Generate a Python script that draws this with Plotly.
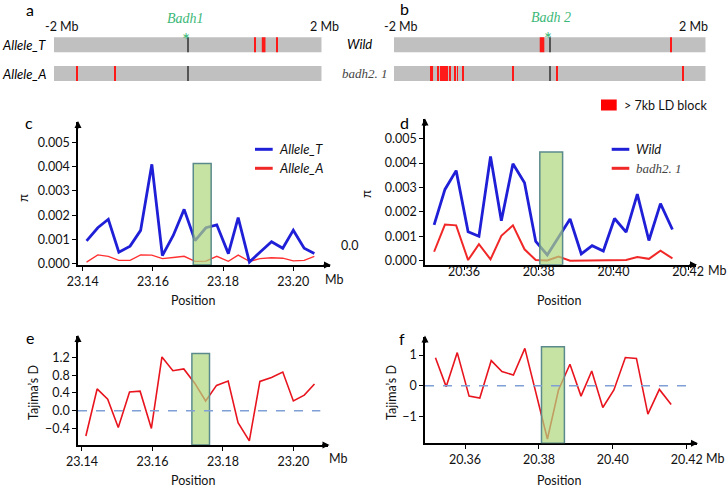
import plotly.graph_objects as go

W, H = 728, 488

# ---------------- panel a / b : LD blocks around the gene (Mb) ----------------
a_T_start = [0.996, 1.105, 1.331]
a_T_end = [1.010, 1.160, 1.344]
a_A_start = [-1.660, -1.096]
a_A_end = [-1.647, -1.083]

b_wild_start = [-0.130, 1.545]
b_wild_end = [-0.071, 1.558]
b_badh_start = [-1.538, -1.440, -1.410, -1.290, -1.221, -1.191, -1.119, -0.473, 0.083, 1.705]
b_badh_end = [-1.499, -1.429, -1.307, -1.279, -1.212, -1.182, -1.110, -0.463, 0.093, 1.715]
gene_pos = 0.0

# ---------------- panel c / e : chr 23.14-23.21 Mb ----------------
pos_c = [23.1411, 23.1443, 23.1473, 23.1503, 23.1535, 23.1565, 23.1597, 23.1627,
         23.1658, 23.1689, 23.1720, 23.1751, 23.1782, 23.1815, 23.1843, 23.1875,
         23.1905, 23.1938, 23.1970, 23.2000, 23.2031, 23.2060]
pi_allele_T = [0.00094, 0.00148, 0.00183, 0.00047, 0.00072, 0.00137, 0.00410, 0.00033,
               0.00116, 0.00224, 0.00095, 0.00148, 0.00160, 0.00041, 0.00190, 0.00006,
               0.00047, 0.00090, 0.00063, 0.00138, 0.00063, 0.00042]
pi_allele_A = [0.00006, 0.00036, 0.00030, 0.00013, 0.00013, 0.00036, 0.00035, 0.00020,
               0.00025, 0.00030, 0.00009, 0.00010, 0.00030, 0.00009, 0.00035, 0.00009,
               0.00020, 0.00024, 0.00022, 0.00011, 0.00013, 0.00030]
tajima_e = [-0.57, 0.49, 0.26, -0.38, 0.42, 0.44, -0.40, 1.21, 0.90, 0.94, 0.62,
            0.22, 0.57, 0.67, -0.27, -0.68, 0.66, 0.75, 0.87, 0.22, 0.35, 0.60]
box_c = [23.1715, 23.1766]
box_c_top = 0.00413
box_e = [23.1712, 23.1762]
box_e_top = 1.29

# ---------------- panel d / f : chr 20.35-20.42 Mb ----------------
pos_d = [20.3520, 20.3549, 20.3579, 20.3611, 20.3640, 20.3671, 20.3700, 20.3731,
         20.3762, 20.3792, 20.3823, 20.3853, 20.3884, 20.3914, 20.3943, 20.3973,
         20.4003, 20.4034, 20.4064, 20.4095, 20.4126, 20.4158]
pi_wild = [0.00147, 0.00292, 0.00369, 0.00119, 0.00100, 0.00427, 0.00164, 0.00397,
           0.00319, 0.00079, 0.00024, 0.00097, 0.00171, 0.00028, 0.00062, 0.00040,
           0.00173, 0.00117, 0.00273, 0.00083, 0.00234, 0.00128]
pi_badh = [0.00037, 0.00148, 0.00145, 0.00003, 0.00068, 0.00006, 0.00102, 0.00145,
           0.00047, 0.00003, 0.00001, 0.00017, 0.00000, 0.00000, 0.00000, 0.00003,
           0.00001, 0.00003, 0.00015, 0.00008, 0.00041, 0.00010]
tajima_f = [0.91, -0.03, 1.08, -0.34, -0.40, 0.82, 0.46, 0.35, 1.22, -0.28, -1.74,
            -0.14, 0.70, -0.34, 0.48, -0.71, -0.14, 0.92, 0.89, -0.93, -0.12, -0.61]
box_d = [20.3803, 20.3864]
box_d_top = 0.00445
box_f = [20.3807, 20.3869]
box_f_top = 1.27


def px(x):
    return x / W


def py(y):
    return 1 - y / H


FONT = "Lato, Liberation Sans, sans-serif"
SERIF = "Liberation Serif, serif"
BLUE = "#1f1fd8"
RED = "#f02828"
GRAY = "#c0c0c0"
LDRED = "#ff1a1a"
GREEN_TXT = "#3cb878"

fig = go.Figure()


def track(xa, ya, row, starts, ends):
    fig.add_trace(go.Bar(x=[4.0], base=[-2.0], y=[row], orientation="h", width=0.52,
                         marker=dict(color=GRAY, line=dict(width=0)),
                         xaxis=xa, yaxis=ya, showlegend=False, hoverinfo="skip"))
    fig.add_trace(go.Bar(x=[e - s for s, e in zip(starts, ends)], base=starts,
                         y=[row] * len(starts), orientation="h", width=0.52,
                         marker=dict(color=LDRED, line=dict(width=0)),
                         xaxis=xa, yaxis=ya, showlegend=False, hoverinfo="skip"))
    fig.add_trace(go.Bar(x=[0.012], base=[gene_pos - 0.006], y=[row], orientation="h",
                         width=0.52, marker=dict(color="#555555", line=dict(width=0)),
                         xaxis=xa, yaxis=ya, showlegend=False, hoverinfo="skip"))


track("x", "y", 1, a_T_start, a_T_end)
track("x", "y", 0, a_A_start, a_A_end)
track("x6", "y6", 1, b_wild_start, b_wild_end)
track("x6", "y6", 0, b_badh_start, b_badh_end)


def line(x, y, color, width, xa, ya):
    fig.add_trace(go.Scatter(x=x, y=y, mode="lines", line=dict(color=color, width=width),
                             xaxis=xa, yaxis=ya, showlegend=False, hoverinfo="skip"))


line(pos_c, pi_allele_A, "#ff3030", 1.3, "x2", "y2")
line(pos_c, pi_allele_T, BLUE, 2.8, "x2", "y2")
line(pos_d, pi_badh, RED, 2.0, "x3", "y3")
line(pos_d, pi_wild, BLUE, 2.8, "x3", "y3")
line(pos_c, tajima_e, "#e8141e", 1.6, "x4", "y4")
line(pos_d, tajima_f, "#e8141e", 1.6, "x5", "y5")

track_ax = dict(visible=False, fixedrange=True, automargin=False)
tick_font = dict(family=FONT, size=12.5, color="#111")


def xax(dom, rng, ticks, anchor, standoff=0):
    return dict(domain=dom, range=rng, anchor=anchor, showline=True, linecolor="black",
                linewidth=1.5, ticks="outside", ticklen=4, tickcolor="black",
                tickvals=ticks, tickformat=".2f", showgrid=False, zeroline=False,
                tickfont=tick_font, automargin=False, ticklabelstandoff=standoff)


def yax(dom, rng, ticks, fmt, anchor):
    return dict(domain=dom, range=rng, anchor=anchor, showline=True, linecolor="black",
                linewidth=1.5, ticks="outside", ticklen=4, tickcolor="black",
                tickvals=ticks, tickformat=fmt, showgrid=False, zeroline=False,
                tickfont=tick_font, automargin=False)


y_rng_c = [-0.00006, 0.00585]
y_rng_d = [-0.00016, 0.00579]
y_rng_e = [-0.772, 1.682]
y_rng_f = [-1.879, 1.599]

fig.update_layout(
    width=W, height=H, margin=dict(l=0, r=0, t=0, b=0, autoexpand=False),
    paper_bgcolor="white", plot_bgcolor="white", barmode="overlay",
    font=dict(family=FONT, size=12, color="#111"),
    xaxis=dict(domain=[px(54), px(321.7)], range=[-2, 2], anchor="y", **track_ax),
    yaxis=dict(domain=[py(87.9), py(30.3)], range=[-0.5, 1.5], anchor="x", **track_ax),
    xaxis6=dict(domain=[px(394), px(705.7)], range=[-2, 2], anchor="y6", **track_ax),
    yaxis6=dict(domain=[py(87.9), py(30.3)], range=[-0.5, 1.5], anchor="x6", **track_ax),
    xaxis2=xax([px(78), px(330)], [23.13866, 23.21046], [23.14, 23.16, 23.18, 23.20], "y2"),
    yaxis2=yax([py(265), py(122)], y_rng_c, [0, 0.001, 0.002, 0.003, 0.004, 0.005], ".3f", "x2"),
    xaxis3=xax([px(425), px(695.7)], [20.34956, 20.42203], [20.36, 20.38, 20.40, 20.42], "y3", -9),
    yaxis3=yax([py(264.7), py(119.3)], y_rng_d, [0, 0.001, 0.002, 0.003, 0.004, 0.005], ".3f", "x3"),
    xaxis4=xax([px(78), px(328.3)], [23.13887, 23.20992], [23.14, 23.16, 23.18, 23.20], "y4"),
    yaxis4=yax([py(445), py(336)], y_rng_e, [-0.4, 0, 0.4, 0.8, 1.2], ".1f", "x4"),
    xaxis5=xax([px(425), px(696.7)], [20.34917, 20.42271], [20.36, 20.38, 20.40, 20.42], "y5"),
    yaxis5=yax([py(443.3), py(336.7)], y_rng_f, [-1, 0, 1], "d", "x5"),
)

shapes = []
box_style = dict(type="rect", layer="above", fillcolor="rgba(175,215,125,0.7)",
                 line=dict(color="#5b8a8c", width=1.5))
shapes.append(dict(xref="x2", yref="y2", x0=box_c[0], x1=box_c[1], y0=y_rng_c[0], y1=box_c_top, **box_style))
shapes.append(dict(xref="x3", yref="y3", x0=box_d[0], x1=box_d[1], y0=y_rng_d[0], y1=box_d_top, **box_style))
shapes.append(dict(xref="x4", yref="y4", x0=box_e[0], x1=box_e[1], y0=y_rng_e[0], y1=box_e_top, **box_style))
shapes.append(dict(xref="x5", yref="y5", x0=box_f[0], x1=box_f[1], y0=y_rng_f[0], y1=box_f_top, **box_style))
# zero reference lines for Tajima's D
shapes.append(dict(type="line", xref="x4 domain", yref="y4", x0=0, x1=0.968, y0=0, y1=0,
                   line=dict(color="#7f9fd6", width=1.5, dash="dash")))
shapes.append(dict(type="line", xref="x5 domain", yref="y5", x0=0, x1=0.968, y0=0, y1=0,
                   line=dict(color="#7f9fd6", width=1.5, dash="dash")))
# hand-made legends
for (x0, x1, y, c) in [(255, 272.7, 149.3, BLUE), (255, 272.7, 168.3, RED),
                       (611.7, 629.3, 149.3, BLUE), (611.7, 629.3, 168.3, RED)]:
    shapes.append(dict(type="line", xref="paper", yref="paper", x0=px(x0), x1=px(x1),
                       y0=py(y), y1=py(y), line=dict(color=c, width=3)))
shapes.append(dict(type="rect", xref="paper", yref="paper", x0=px(601), x1=px(616.7),
                   y0=py(110.5), y1=py(99.5), fillcolor="#ff0000", line=dict(width=0)))
fig.update_layout(shapes=shapes)

ann = []


def text(x, y, s, size=12.5, xanchor="center", color="#111", family=FONT, angle=0, italic=False):
    ann.append(dict(x=px(x), y=py(y), xref="paper", yref="paper", text=s, showarrow=False,
                    xanchor=xanchor, yanchor="middle", textangle=angle,
                    font=dict(family=family, size=size, color=color,
                              style="italic" if italic else "normal")))


def arrow(x, y, ax, ay):
    ann.append(dict(x=px(x), y=py(y), xref="paper", yref="paper", text="", showarrow=True,
                    ax=ax, ay=ay, arrowhead=2, arrowsize=1, arrowwidth=1.4, arrowcolor="black"))


# panel letters
for (x, y, s) in [(30, 10, "a"), (404, 9, "b"), (29, 123, "c"), (404, 122, "d"),
                  (30, 337, "e"), (402, 338, "f")]:
    text(x, y, s, size=16, color="black")

# tracks text
text(62, 27, "-2 Mb", 12.5)
text(324, 27, "2 Mb", 12.5)
text(401, 27, "-2 Mb", 12.5)
text(693, 27, "2 Mb", 12.5)
text(185, 19, "Badh1", 14, color=GREEN_TXT, family=SERIF, italic=True)
text(186, 39, "*", 19, color=GREEN_TXT)
text(551, 18, "Badh 2", 14, color=GREEN_TXT, family=SERIF, italic=True)
text(548, 38, "*", 19, color=GREEN_TXT)
text(48, 45, "Allele_T", 13, xanchor="right", italic=True, color="black")
text(48, 73.5, "Allele_A", 13, xanchor="right", italic=True, color="black")
text(345, 44.5, "Wild", 13, xanchor="left", italic=True, color="black")
text(340, 73.5, "badh2. 1", 13, xanchor="left", family=SERIF, italic=True, color="#444")

# legends
text(622, 105, "> 7kb LD block", 12.5, xanchor="left")
text(277, 149.3, "Allele_T", 13, xanchor="left", italic=True)
text(277, 168.3, "Allele_A", 13, xanchor="left", italic=True)
text(634, 149.3, "Wild", 13, xanchor="left", italic=True)
text(634, 168.3, "badh2. 1", 13, xanchor="left", family=SERIF, italic=True, color="#444")

# axis titles and units
text(23, 198, "π", 13, angle=-90)
text(366, 194, "π", 13, angle=-90)
text(349, 245, "0.0", 12.5)
text(193, 300, "Position", 12.5)
text(559, 300, "Position", 12.5)
text(193, 480.5, "Position", 12.5)
text(559, 480.5, "Position", 12.5)
text(334, 279, "Mb", 12.5)
text(717.5, 270, "Mb", 12.5)
text(338.5, 458, "Mb", 12.5)
text(715.5, 458, "Mb", 12.5)
text(33, 393, "Tajima’s D", 12.5, angle=-90)
text(391, 393, "Tajima’s D", 12.5, angle=-90)

# axis arrow heads
arrow(78, 121, 0, 9)
arrow(331, 265, -9, 0)
arrow(425, 118.5, 0, 9)
arrow(697, 264.7, -9, 0)
arrow(78, 335, 0, 9)
arrow(329.5, 445, -9, 0)
arrow(425, 335.5, 0, 9)
arrow(698, 443.3, -9, 0)

fig.update_layout(annotations=ann)

# the page's default body margin would push the 728x488 figure off the window
fig.write_html("out.html", config={"displayModeBar": False},
               post_script="document.body.style.margin = '0px';")
